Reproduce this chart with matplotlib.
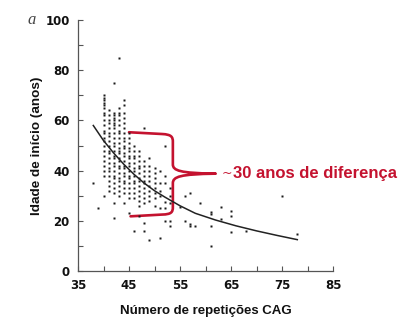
import matplotlib
matplotlib.use("Agg")
import matplotlib.pyplot as plt
from matplotlib.path import Path
from matplotlib.patches import PathPatch
from matplotlib.ticker import MultipleLocator

# Ages of onset stacked in each dense CAG column
age_38 = [35]
age_39 = [25]
age_40 = [70, 69, 68, 67, 66, 65, 63, 62, 60, 58, 56, 55, 53, 52, 50, 48, 46, 44, 42, 40, 38, 30]
age_41 = [64, 62, 60, 59, 57, 55, 54, 52, 50, 48, 47, 45, 43, 41, 40, 38, 36, 34, 32]
age_42 = [75, 63, 62, 61, 60, 59, 58, 57, 55, 53, 51, 50, 48, 46, 45, 43, 42, 40, 38, 37, 35, 33, 31, 27, 21]
age_43 = [85, 65, 63, 62, 60, 58, 56, 55, 53, 51, 49, 48, 47, 45, 44, 42, 41, 39, 37, 36, 34, 32, 30]
age_44 = [68, 66, 63, 61, 59, 57, 55, 53, 52, 50, 49, 47, 46, 44, 42, 41, 39, 38, 36, 35, 33, 31, 27]
age_45 = [55, 53, 51, 49, 48, 46, 45, 43, 42, 40, 38, 37, 35, 33, 31, 29, 23]
age_46 = [50, 48, 46, 45, 43, 41, 40, 38, 36, 35, 33, 31, 29, 16]
age_47 = [48, 46, 44, 42, 41, 39, 37, 36, 34, 32, 30, 28, 26, 22]
age_48 = [57, 44, 42, 40, 38, 36, 35, 33, 31, 29, 27, 19, 16]
age_49 = [45, 42, 40, 38, 36, 34, 32, 30, 28, 12.5]
age_50 = [41, 39, 37, 35, 33, 31, 29, 26]
age_51 = [40, 35, 32, 30, 25, 13]
age_52 = [50, 38, 35, 27.5, 25, 20]
age_53 = [33, 30, 27, 20, 18]

# Sparse points at long repeats
cag_tail = [55, 56, 56, 57, 57, 57, 58, 59, 61, 61, 61, 61, 63, 63, 65, 65, 65, 68, 75, 78]
age_tail = [25.5, 30, 20, 31, 18.7, 17.8, 18, 27, 23.7, 22.8, 18, 10, 25.7, 20.7, 24, 22, 15.7, 16, 30, 14.8]

# Fitted curve, read at a few repeat lengths
curve_cag = [38, 40, 42, 44, 46, 48, 50, 52, 55, 58, 62, 66, 70, 74, 78]
curve_age = [58, 52, 47, 42.5, 38.5, 35, 32, 29.5, 26, 23, 20.3, 18, 16, 14.2, 12.5]

x_ticks = [35, 45, 55, 65, 75, 85]
y_ticks = [0, 20, 40, 60, 80, 100]

columns = {38: age_38, 39: age_39, 40: age_40, 41: age_41, 42: age_42, 43: age_43,
           44: age_44, 45: age_45, 46: age_46, 47: age_47, 48: age_48, 49: age_49,
           50: age_50, 51: age_51, 52: age_52, 53: age_53}

xs, ys = [], []
for c, ages in columns.items():
    xs += [c] * len(ages)
    ys += ages
xs += cag_tail
ys += age_tail

fig = plt.figure(figsize=(4.0, 3.35), dpi=100)
ax = fig.add_axes([0.195, 0.191, 0.6375, 0.749])

ax.plot(xs, ys, ls="none", marker="s", ms=1.6, color="#1a1a1a", mec="none")
ax.plot(curve_cag, curve_age, color="#222222", lw=1.1)

ax.set_xlim(35, 85)
ax.set_ylim(0, 100)
ax.set_xticks(x_ticks)
ax.set_yticks(y_ticks)
ax.xaxis.set_minor_locator(MultipleLocator(5))
ax.yaxis.set_minor_locator(MultipleLocator(10))
for s in ["top", "right"]:
    ax.spines[s].set_visible(False)
for s in ["left", "bottom"]:
    ax.spines[s].set_color("#555555")
    ax.spines[s].set_linewidth(0.9)
ax.tick_params(which="both", direction="in", length=3.5, width=0.8, color="#555555",
               pad=6, labelsize=8.5, labelcolor="#111111")
for lab in ax.get_xticklabels() + ax.get_yticklabels():
    lab.set_fontweight("bold")

ax.set_xlabel("Número de repetições CAG", fontsize=9.5, fontweight="bold",
              family="Liberation Sans", color="#111111", labelpad=9)
ax.set_ylabel("Idade de início (anos)", fontsize=9.7, fontweight="bold",
              family="Liberation Sans", color="#111111", labelpad=2)

fig.text(0.08, 0.94, "a", fontsize=12, style="italic", family="Liberation Serif",
         color="#444444", ha="center", va="center")

# red curly brace
red = "#c4122f"
verts = [(45, 55.3), (51.5, 54.6),
         (53.3, 54.4), (53.6, 53.5), (53.6, 51.5),
         (53.6, 42.5),
         (53.6, 40.0), (55.0, 39.0), (62.0, 38.8),
         (55.0, 38.6), (53.6, 37.6), (53.6, 35.0),
         (53.6, 25.5),
         (53.6, 23.4), (53.3, 22.6), (51.5, 22.5),
         (45.3, 21.8)]
codes = [Path.MOVETO, Path.LINETO,
         Path.CURVE4, Path.CURVE4, Path.CURVE4,
         Path.LINETO,
         Path.CURVE4, Path.CURVE4, Path.CURVE4,
         Path.CURVE4, Path.CURVE4, Path.CURVE4,
         Path.LINETO,
         Path.CURVE4, Path.CURVE4, Path.CURVE4,
         Path.LINETO]
ax.add_patch(PathPatch(Path(verts, codes), fill=False, edgecolor=red, lw=1.9,
                       capstyle="round", joinstyle="round", clip_on=False))

fig.text(0.553, 0.482, "~", fontsize=9, color=red, ha="left", va="center")
fig.text(0.583, 0.482, "30 anos de diferença", fontsize=12, fontweight="bold",
         family="Liberation Sans", color=red, ha="left", va="center")

fig.savefig("out.png", dpi=100)
